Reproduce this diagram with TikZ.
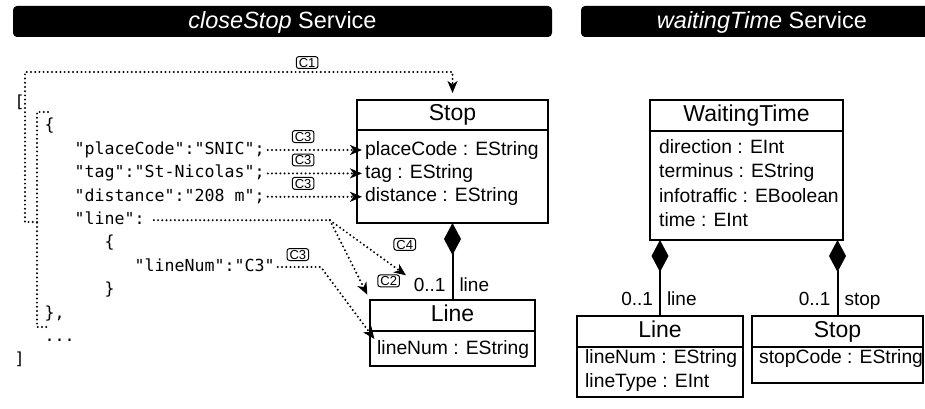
\documentclass[tikz,border=0pt]{standalone}
\usepackage{fontspec}
\setmainfont{Liberation Sans}
\setmonofont{DejaVu Sans Mono}
\usetikzlibrary{positioning,arrows.meta}

\begin{document}
\begin{tikzpicture}[
    x=1pt, y=-1pt,
    >={Stealth[length=12pt,width=10pt,inset=3.5pt]},
    hdrbar/.style={fill=black, rounded corners=4pt},
    hdrtext/.style={text=white, font=\fontsize{23.5}{28}\selectfont},
    cls/.style={
        draw,
        line width=2pt,
        outer sep=0pt,
        inner sep=0pt,
        text height=17pt,
        text depth=5pt,
        font=\fontsize{23}{27}\selectfont
    },
    clsbody/.style={draw, line width=2pt, outer sep=0pt, inner sep=0pt},
    attr/.style={
        anchor=west,
        inner xsep=2pt,
        inner ysep=0pt,
        text height=14pt,
        text depth=4pt,
        font=\fontsize{19.3}{23}\selectfont
    },
    role/.style={
        inner xsep=6pt,
        inner ysep=1pt,
        text height=14pt,
        text depth=4pt,
        font=\fontsize{19}{23}\selectfont
    },
    json/.style={
        anchor=west,
        inner xsep=0pt,
        inner ysep=0pt,
        text height=12.5pt,
        text depth=4pt,
        font=\ttfamily\fontsize{16.6}{20}\selectfont
    },
    corr/.style={
        draw,
        solid,
        line width=1pt,
        rounded corners=2.5pt,
        inner xsep=2.5pt,
        inner ysep=1.2pt,
        text height=9.5pt,
        text depth=0pt,
        font=\fontsize{13}{15}\selectfont
    },
    dotline/.style={line width=2.2pt, line cap=round, dash pattern=on 0pt off 4.2pt},
    map/.style={dotline, ->, shorten >=1pt, shorten <=3pt},
    comp/.style={line width=2pt, {Diamond[length=32pt,width=17pt]}-}
]
    \useasboundingbox (0,0) rectangle (925,409);

    % Faixas de título dos serviços
    \fill[hdrbar] (13,6) rectangle (552,37);
    \begin{scope}
        \clip (0,0) rectangle (925,409);
        \fill[hdrbar] (581,6) rectangle (945,37);
    \end{scope}
    \node[hdrtext] (svcA) at (282.5,22) {\textit{closeStop} Service};
    \node[hdrtext] (svcB) at (762,22) {\textit{waitingTime} Service};

    % Resposta JSON do serviço closeStop
    \node[json] (jOpen)       at (14.5,103.2)  {[};
    \node[json] (jObjOpen)    at (44.5,126.6)  {\{};
    \node[json] (jPlace)      at (74.5,150)    {"placeCode":"SNIC";};
    \node[json] (jTag)        at (74.5,173.4)  {"tag":"St-Nicolas";};
    \node[json] (jDist)       at (74.5,196.8)  {"distance":"208 m";};
    \node[json] (jLine)       at (74.5,220.2)  {"line":};
    \node[json] (jInnerOpen)  at (104.5,243.6) {\{};
    \node[json] (jLineNum)    at (134.5,267)   {"lineNum":"C3"};
    \node[json] (jInnerClose) at (104.5,290.4) {\}};
    \node[json] (jObjClose)   at (44.5,313.8)  {\},};
    \node[json] (jMore)       at (44.5,337.2)  {...};
    \node[json] (jClose)      at (14.5,360.6)  {]};

    % Classe Stop (closeStop)
    \node[cls, minimum width=191pt, minimum height=30pt] (stopL) at (452.5,115) {Stop};
    \node[clsbody, minimum width=191pt, minimum height=93pt, below=0pt of stopL] (stopLBody) {};
    \node[attr] (aPlace) at (363,150)   {placeCode : EString};
    \node[attr] (aTag)   at (363,173.4) {tag : EString};
    \node[attr] (aDist)  at (363,196.8) {distance : EString};

    % Classe Line (closeStop)
    \node[cls, minimum width=165pt, minimum height=31pt] (lineL) at (452.5,315.5) {Line};
    \node[clsbody, minimum width=165pt, minimum height=35pt, below=0pt of lineL] (lineLBody) {};
    \node[attr] (aLineNum) at (375,349) {lineNum : EString};

    \draw[comp] (stopLBody.south) -- node[role, left, pos=0.83] (multL) {0..1}
        node[role, right, pos=0.83] (roleL) {line} (lineL.north);

    % Classe WaitingTime
    \node[cls, minimum width=193pt, minimum height=31pt] (wait) at (746.5,115.5) {WaitingTime};
    \node[clsbody, minimum width=193pt, minimum height=109pt, below=0pt of wait] (waitBody) {};
    \node[attr] (aDir)  at (657,148)   {direction : EInt};
    \node[attr] (aTerm) at (657,172.5) {terminus : EString};
    \node[attr] (aInfo) at (657,197)   {infotraffic : EBoolean};
    \node[attr] (aTime) at (657,221.5) {time : EInt};

    % Classes Line e Stop (waitingTime)
    \node[cls, minimum width=166pt, minimum height=31pt] (lineR) at (660,331.5) {Line};
    \node[clsbody, minimum width=166pt, minimum height=50pt, below=0pt of lineR] (lineRBody) {};
    \node[attr] (aLineNumR) at (583,358) {lineNum : EString};
    \node[attr] (aLineType) at (583,382) {lineType : EInt};

    \node[cls, minimum width=171pt, minimum height=31pt] (stopR) at (837.5,331.5) {Stop};
    \node[clsbody, minimum width=171pt, minimum height=36pt, below=0pt of stopR] (stopRBody) {};
    \node[attr] (aStopCode) at (757,358) {stopCode : EString};

    \draw[comp] (lineR.north |- waitBody.south) -- node[role, left, pos=0.79] (multR1) {0..1}
        node[role, right, pos=0.79] (roleR1) {line} (lineR.north);
    \draw[comp] (stopR.north |- waitBody.south) -- node[role, left, pos=0.79] (multR2) {0..1}
        node[role, right, pos=0.79] (roleR2) {stop} (stopR.north);

    % Correspondências JSON -> modelo
    \draw[dotline] (48,112) -- (37,112) -- (37,327) -- (48,327);
    \coordinate (brk) at (37,222);
    \draw[map, shorten <=0pt, shorten >=7pt] (brk) -| (25,72)
        -| node[corr, above=3pt, pos=0.33] (c1) {C1} (stopL.north);

    \draw[map] (jPlace.east) -- node[corr, above=7pt, pos=0.39] (c3a) {C3} (aPlace.west);
    \draw[map] (jTag.east) -- node[corr, above=7pt, pos=0.39] (c3b) {C3} (aTag.west);
    \draw[map] (jDist.east) -- node[corr, above=7pt, pos=0.39] (c3c) {C3} (aDist.west);

    \draw[dotline, shorten <=9pt] (jLine.east) -- ++(185,0) coordinate (fork);
    \draw[map, shorten <=0pt] (fork) -- node[corr, pos=0.8, above right=14pt and 2pt] (c4) {C4} (multL.north west);
    \draw[map, shorten <=0pt, shorten >=6pt] (fork) -- node[corr, pos=0.76, right=17pt] (c2) {C2} (lineL.north west);

    \draw[map] (jLineNum.east) -- node[corr, above=6pt] (c3d) {C3} ++(46,0) -- (aLineNum.north west);
\end{tikzpicture}
\end{document}
